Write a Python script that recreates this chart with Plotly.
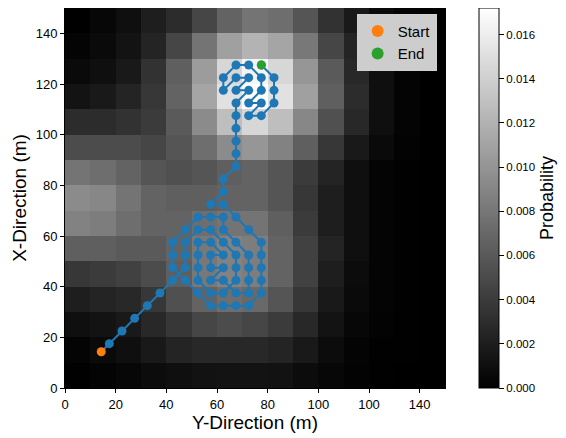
import plotly.graph_objects as go

# Cell centres (m)
cell_x = [5, 15, 25, 35, 45, 55, 65, 75, 85, 95, 105, 115, 125, 135, 145]
cell_y = [5, 15, 25, 35, 45, 55, 65, 75, 85, 95, 105, 115, 125, 135, 145]

# Probability grid, rows from y=0-10 (bottom) to y=140-150 (top)
prob = [
    [0.0001, 0.0003, 0.0005, 0.0008, 0.0010, 0.0012, 0.0013, 0.0013, 0.0012, 0.0008, 0.0005, 0.0002, 0.0001, 0.0000, 0.0000],
    [0.0003, 0.0007, 0.0010, 0.0017, 0.0024, 0.0027, 0.0027, 0.0027, 0.0024, 0.0017, 0.0008, 0.0003, 0.0001, 0.0001, 0.0000],
    [0.0010, 0.0013, 0.0017, 0.0027, 0.0037, 0.0047, 0.0051, 0.0047, 0.0040, 0.0027, 0.0013, 0.0005, 0.0002, 0.0001, 0.0000],
    [0.0020, 0.0024, 0.0027, 0.0037, 0.0054, 0.0067, 0.0074, 0.0071, 0.0057, 0.0037, 0.0017, 0.0007, 0.0003, 0.0001, 0.0000],
    [0.0037, 0.0040, 0.0044, 0.0051, 0.0064, 0.0081, 0.0088, 0.0084, 0.0067, 0.0044, 0.0020, 0.0008, 0.0003, 0.0001, 0.0000],
    [0.0064, 0.0064, 0.0061, 0.0061, 0.0067, 0.0081, 0.0088, 0.0084, 0.0067, 0.0044, 0.0024, 0.0010, 0.0003, 0.0001, 0.0000],
    [0.0088, 0.0084, 0.0074, 0.0067, 0.0067, 0.0074, 0.0078, 0.0078, 0.0064, 0.0040, 0.0020, 0.0010, 0.0003, 0.0001, 0.0000],
    [0.0094, 0.0091, 0.0078, 0.0067, 0.0064, 0.0064, 0.0067, 0.0067, 0.0057, 0.0037, 0.0020, 0.0010, 0.0003, 0.0001, 0.0000],
    [0.0078, 0.0074, 0.0067, 0.0057, 0.0054, 0.0057, 0.0064, 0.0067, 0.0057, 0.0040, 0.0024, 0.0010, 0.0003, 0.0001, 0.0000],
    [0.0051, 0.0051, 0.0051, 0.0047, 0.0057, 0.0074, 0.0094, 0.0101, 0.0088, 0.0064, 0.0037, 0.0017, 0.0007, 0.0002, 0.0000],
    [0.0030, 0.0030, 0.0034, 0.0040, 0.0061, 0.0094, 0.0128, 0.0145, 0.0128, 0.0091, 0.0054, 0.0027, 0.0010, 0.0003, 0.0000],
    [0.0013, 0.0017, 0.0024, 0.0037, 0.0067, 0.0111, 0.0152, 0.0172, 0.0152, 0.0108, 0.0064, 0.0030, 0.0010, 0.0003, 0.0000],
    [0.0007, 0.0010, 0.0017, 0.0034, 0.0064, 0.0105, 0.0145, 0.0165, 0.0145, 0.0101, 0.0061, 0.0027, 0.0010, 0.0003, 0.0000],
    [0.0003, 0.0007, 0.0013, 0.0024, 0.0047, 0.0078, 0.0108, 0.0121, 0.0111, 0.0081, 0.0047, 0.0024, 0.0010, 0.0003, 0.0000],
    [0.0000, 0.0005, 0.0010, 0.0020, 0.0030, 0.0047, 0.0067, 0.0078, 0.0074, 0.0057, 0.0034, 0.0017, 0.0007, 0.0003, 0.0000],
]

# Search path (m)
path_x = [17.5, 22.5, 27.5, 32.5, 37.5, 42.5, 47.5,
          47.5, 47.5, 52.5, 57.5, 62.5, 67.5, 67.5, 67.5, 62.5, 57.5, 52.5,
          52.5, 52.5, 52.5, 57.5, 62.5, 57.5, 57.5, 62.5, 57.5, 62.5, 67.5, 72.5,
          72.5, 72.5, 72.5, 67.5, 62.5, 62.5, 57.5, 52.5, 47.5, 42.5, 42.5, 42.5,
          47.5, 52.5, 57.5, 62.5, 67.5, 72.5, 77.5, 77.5, 77.5, 77.5, 77.5,
          72.5, 67.5, 62.5, 57.5, 62.5,
          62.5, 67.5, 67.5, 67.5, 67.5, 67.5, 67.5,
          72.5, 67.5, 72.5, 67.5, 62.5, 62.5, 67.5, 72.5, 77.5, 77.5, 72.5, 77.5,
          72.5, 77.5, 82.5, 82.5, 82.5, 77.5]
path_y = [17.5, 22.5, 27.5, 32.5, 37.5, 42.5, 47.5,
          52.5, 57.5, 62.5, 62.5, 57.5, 52.5, 47.5, 42.5, 37.5, 37.5, 42.5,
          47.5, 52.5, 57.5, 57.5, 52.5, 52.5, 47.5, 47.5, 42.5, 42.5, 37.5, 37.5,
          42.5, 47.5, 52.5, 57.5, 62.5, 67.5, 67.5, 67.5, 62.5, 57.5, 52.5, 47.5,
          42.5, 37.5, 32.5, 32.5, 32.5, 32.5, 37.5, 42.5, 47.5, 52.5, 57.5,
          62.5, 67.5, 72.5, 72.5, 77.5,
          82.5, 87.5, 92.5, 97.5, 102.5, 107.5, 112.5,
          117.5, 117.5, 122.5, 122.5, 117.5, 122.5, 127.5, 127.5, 122.5, 117.5, 112.5, 112.5,
          107.5, 107.5, 112.5, 117.5, 122.5, 127.5]

start_x = [14.3]
start_y = [14.3]
end_x = [77.5]
end_y = [127.5]

tick_vals = [0, 20, 40, 60, 80, 100, 120, 140]
x_tick_text = ["0", "20", "40", "60", "80", "100", "100", "140"]
y_tick_text = ["0", "20", "40", "60", "80", "100", "120", "140"]
cbar_ticks = [0.000, 0.002, 0.004, 0.006, 0.008, 0.010, 0.012, 0.014, 0.016]

FONT = "Liberation Sans, Arial, Helvetica, sans-serif"

fig = go.Figure()
fig.add_trace(go.Heatmap(
    x=cell_x, y=cell_y, z=prob,
    colorscale=[[0, "black"], [1, "white"]],
    zmin=0, zmax=0.0172,
    showscale=True,
    hoverinfo="skip",
    colorbar=dict(
        x=1.0905, xanchor="left", xpad=0, ypad=0,
        y=0.5, yanchor="middle", len=1, lenmode="fraction",
        thickness=20, outlinewidth=1, outlinecolor="black",
        tickmode="array", tickvals=cbar_ticks,
        ticktext=["%.3f" % t for t in cbar_ticks],
        ticks="outside", ticklen=5, tickcolor="black",
        tickfont=dict(family=FONT, size=11.5, color="black"),
        title=dict(text="Probability", side="right",
                   font=dict(family=FONT, size=18, color="black")),
    ),
))
fig.add_trace(go.Scatter(
    x=[start_x[0], path_x[0]], y=[start_y[0], path_y[0]], mode="lines",
    line=dict(color="#1f77b4", width=2), showlegend=False, hoverinfo="skip",
))
fig.add_trace(go.Scatter(
    x=path_x, y=path_y, mode="lines+markers",
    line=dict(color="#1f77b4", width=2),
    marker=dict(color="#1f77b4", size=9),
    showlegend=False, hoverinfo="skip",
))
fig.add_trace(go.Scatter(
    x=start_x, y=start_y, mode="markers", name="Start",
    marker=dict(color="#ff7f0e", size=9),
))
fig.add_trace(go.Scatter(
    x=end_x, y=end_y, mode="markers", name="End",
    marker=dict(color="#2ca02c", size=9),
))

axis_common = dict(
    range=[0, 150], showgrid=False, zeroline=False, automargin=False,
    showline=True, linecolor="black", linewidth=1, mirror=True,
    ticks="outside", ticklen=4, tickcolor="black",
    tickfont=dict(family=FONT, size=13, color="black"),
    tickmode="array", tickvals=tick_vals,
)
fig.update_xaxes(**axis_common, ticktext=x_tick_text,
                 title=dict(text="Y-Direction (m)", standoff=0,
                            font=dict(family=FONT, size=19, color="black")))
fig.update_yaxes(**axis_common, ticktext=y_tick_text,
                 title=dict(text="X-Direction (m)", standoff=4,
                            font=dict(family=FONT, size=19, color="black")))

fig.update_layout(
    width=558, height=430,
    margin=dict(l=57, r=121, t=0, b=50, autoexpand=False),
    paper_bgcolor="white", plot_bgcolor="black",
    legend=dict(
        x=0.978, y=0.985, xanchor="right", yanchor="top",
        bgcolor="rgba(205,205,205,1)", bordercolor="#d0d0d0", borderwidth=1,
        font=dict(family=FONT, size=15, color="black"),
        itemsizing="constant", tracegroupgap=0, itemwidth=30,
    ),
)

fig.write_html("out.html")
